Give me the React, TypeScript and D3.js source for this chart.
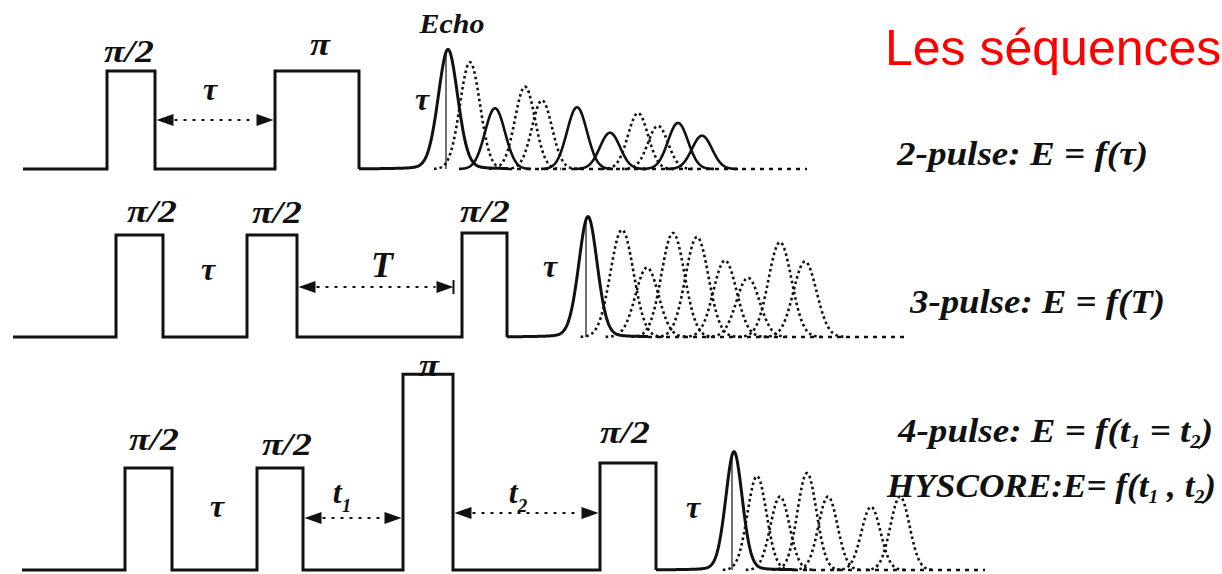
import * as d3 from 'd3'

const W = 1222, H = 574
const SERIF = 'Liberation Serif'
const INK = '#111'

// time axis in arbitrary units, amplitude in units of a pi/2 pulse
const TIME_MAX = 122.2
const rowBase = [169, 337, 570]
const rowTop = [71, 235, 468]

// pulses: [start, end, amplitude]
const pulses2 = [[10.7, 15.5, 1], [27.5, 35.9, 1]]
const pulses3 = [[11.6, 16.3, 1], [24.7, 29.7, 1], [46.2, 50.7, 1.02]]
const pulses4 = [[12.5, 17.2, 1], [25.7, 30.3, 1], [40.3, 45.3, 1.92], [60.0, 65.6, 1.05]]
const traceStart = [2.3, 1.3, 2.2]
const traceEnd = [80.7, 90.7, 98.5]

// pulse labels: [text, centre, height]
const pulseLabels2 = [['π/2', 12.9, 1.09], ['π', 32.0, 1.16]]
const pulseLabels3 = [['π/2', 15.2, 1.13], ['π/2', 27.7, 1.12], ['π/2', 48.5, 1.13]]
const pulseLabels4 = [['π/2', 15.4, 1.18], ['π/2', 28.7, 1.13], ['π', 42.9, 1.9], ['π/2', 62.5, 1.25]]

// echoes: [centre, amplitude, solid (1) or dotted (0)]; first one is the main echo
const echoes2 = [[44.8, 1.22, 1], [47.0, 1.09, 0], [49.5, 0.62, 1], [52.5, 0.84, 0], [54.2, 0.70, 0],
  [57.7, 0.63, 1], [61.0, 0.37, 1], [63.8, 0.57, 0], [65.8, 0.44, 0], [67.8, 0.47, 1], [70.2, 0.34, 1]]
const echoes3 = [[58.8, 1.18, 1], [62.2, 1.05, 0], [64.7, 0.68, 0], [67.3, 1.02, 0], [69.7, 0.98, 0],
  [72.5, 0.75, 0], [74.8, 0.58, 0], [78.0, 0.93, 0], [80.5, 0.74, 0]]
const echoes4 = [[73.4, 1.16, 1], [75.7, 0.92, 0], [78.0, 0.72, 0], [80.7, 0.95, 0], [82.8, 0.72, 0],
  [87.1, 0.62, 0], [90.0, 0.72, 0]]
// echo widths (sigma): [main, others]
const echoWidth = [[1.0, 1.0], [0.95, 1.15], [0.85, 0.95]]

// delay arrows: [from, to, height, bar at tip]
const arrows2 = [[15.5, 27.5, 0.5, 0]]
const arrows3 = [[29.7, 45.5, 0.49, 1]]
const arrows4 = [[30.3, 40.3, 0.51, 0], [45.3, 60.0, 0.56, 0]]

// delay labels: [symbol, subscript, centre, height]
const delayLabels2 = [['τ', '', 21.0, 0.70], ['τ', '', 42.2, 0.60]]
const delayLabels3 = [['τ', '', 20.8, 0.56], ['T', '', 38.2, 0.59], ['τ', '', 55.0, 0.59]]
const delayLabels4 = [['τ', '', 21.7, 0.52], ['t', '1', 34.2, 0.66], ['t', '2', 51.8, 0.66], ['τ', '', 69.3, 0.51]]

const rows = [
  { pulses: pulses2, labels: pulseLabels2, echoes: echoes2, arrows: arrows2, delays: delayLabels2 },
  { pulses: pulses3, labels: pulseLabels3, echoes: echoes3, arrows: arrows3, delays: delayLabels3 },
  { pulses: pulses4, labels: pulseLabels4, echoes: echoes4, arrows: arrows4, delays: delayLabels4 },
]

const x = d3.scaleLinear().domain([0, TIME_MAX]).range([0, W])

function shape(d: number, s: number, main: boolean) {
  const g = Math.exp(-(d * d) / (2 * s * s))
  if (!main) return g
  return 0.85 * g + 0.15 / (1 + (d / s) ** 2)
}

function Row({ i }: { i: number }) {
  const r = rows[i]
  const y = d3.scaleLinear().domain([0, 1]).range([rowBase[i], rowTop[i]])
  const line = d3.line<number[]>().x(d => x(d[0])).y(d => y(d[1]))

  // pulse train
  const pts: number[][] = [[traceStart[i], 0]]
  r.pulses.forEach(p => { pts.push([p[0], 0], [p[0], p[2]], [p[1], p[2]], [p[1], 0]) })
  const lastEnd = r.pulses[r.pulses.length - 1][1]

  const [sMain, sOther] = echoWidth[i]
  const main = r.echoes[0]
  const mainPts: number[][] = []
  for (let t = lastEnd; t <= main[0] + 6; t += 0.05) mainPts.push([t, main[1] * shape(t - main[0], sMain, true)])
  const vx = main[0] - 0.2
  const vy = main[1] * shape(vx - main[0], sMain, true)

  const others = r.echoes.slice(1).map(e => {
    const p: number[][] = []
    for (let t = e[0] - 3.6 * sOther; t <= e[0] + 3.6 * sOther; t += 0.05) p.push([t, e[1] * shape(t - e[0], sOther, false)])
    return { d: line(p), solid: e[2] === 1 }
  })

  return (
    <g>
      <path d={line(pts) || ''} fill="none" stroke={INK} strokeWidth={3} strokeLinejoin="miter" />
      <path d={line([[main[0] + 6, 0], [traceEnd[i], 0]]) || ''} stroke={INK} strokeWidth={2.5} strokeDasharray="4 5" />
      {others.map((o, k) => (
        <path key={k} d={o.d || ''} fill="none" stroke={INK}
          strokeWidth={2.6} strokeDasharray={o.solid ? undefined : '2.6 3'} />
      ))}
      <path d={line(mainPts) || ''} fill="none" stroke={INK} strokeWidth={3} />
      <line x1={x(vx)} x2={x(vx)} y1={y(0)} y2={y(vy)} stroke={INK} strokeWidth={1.2} />

      {r.labels.map((l, k) => (
        <text key={k} x={x(l[1] as number)} y={y(l[2] as number)} textAnchor="middle"
          fontFamily={SERIF} fontStyle="italic" fontWeight="bold" fontSize={32}
          textLength={l[0] === 'π' ? 20 : 50} lengthAdjust="spacingAndGlyphs" fill={INK}>{l[0]}</text>
      ))}

      {r.arrows.map((a, k) => {
        const x0 = x(a[0]) + 1.5, x1 = x(a[1]) - 1.5, yy = y(a[2])
        return (
          <g key={k}>
            <line x1={x0 + 18} x2={x1 - 18} y1={yy} y2={yy} stroke={INK} strokeWidth={2} strokeDasharray="3 6" />
            <path d={`M${x0},${yy}L${x0 + 17},${yy - 6}L${x0 + 17},${yy + 6}Z`} fill={INK} />
            <path d={`M${x1},${yy}L${x1 - 17},${yy - 6}L${x1 - 17},${yy + 6}Z`} fill={INK} />
            {a[3] === 1 && <line x1={x1} x2={x1} y1={yy - 7} y2={yy + 7} stroke={INK} strokeWidth={2} />}
          </g>
        )
      })}

      {r.delays.map((l, k) => (
        <text key={k} x={x(l[2] as number)} y={y(l[3] as number)} textAnchor="middle"
          fontFamily={SERIF} fontStyle="italic" fontWeight="bold" fontSize={l[0] === 'T' ? 36 : 32} fill={INK}>
          {l[0]}
          {l[1] && <tspan fontSize={19} dy={9}>{l[1]}</tspan>}
        </text>
      ))}
    </g>
  )
}

const formulaStyle = { fontFamily: SERIF, fontStyle: 'italic', fontWeight: 'bold', fontSize: 34, fill: INK }

export default function App() {
  return (
    <svg width={W} height={H} style={{ position: 'fixed', left: 0, top: 0, background: '#fff' }}>
      <rect width={W} height={H} fill="#fff" />
      {rows.map((_, i) => <Row key={i} i={i} />)}

      <text x={452} y={33} textAnchor="middle" fontFamily={SERIF} fontStyle="italic" fontWeight="bold"
        fontSize={28} textLength={65} lengthAdjust="spacingAndGlyphs" fill={INK}>Echo</text>

      <text x={885} y={65} fontFamily="Liberation Sans" fontSize={50} fill="#ff0000">Les séquences</text>

      <text x={897} y={165} {...formulaStyle} textLength={251} lengthAdjust="spacingAndGlyphs">2-pulse: E = f(τ)</text>
      <text x={910} y={313} {...formulaStyle} textLength={255} lengthAdjust="spacingAndGlyphs">3-pulse: E = f(T)</text>
      <text x={898} y={442} {...formulaStyle} textLength={315} lengthAdjust="spacingAndGlyphs">
        4-pulse: E = f(t<tspan fontSize={19} dy={6}>1</tspan><tspan dy={-6}> = t</tspan><tspan fontSize={19} dy={6}>2</tspan><tspan dy={-6}>)</tspan>
      </text>
      <text x={887} y={497} {...formulaStyle} textLength={329} lengthAdjust="spacingAndGlyphs">
        HYSCORE:E= f(t<tspan fontSize={19} dy={6}>1</tspan><tspan dy={-6}> , t</tspan><tspan fontSize={19} dy={6}>2</tspan><tspan dy={-6}>)</tspan>
      </text>
    </svg>
  )
}
